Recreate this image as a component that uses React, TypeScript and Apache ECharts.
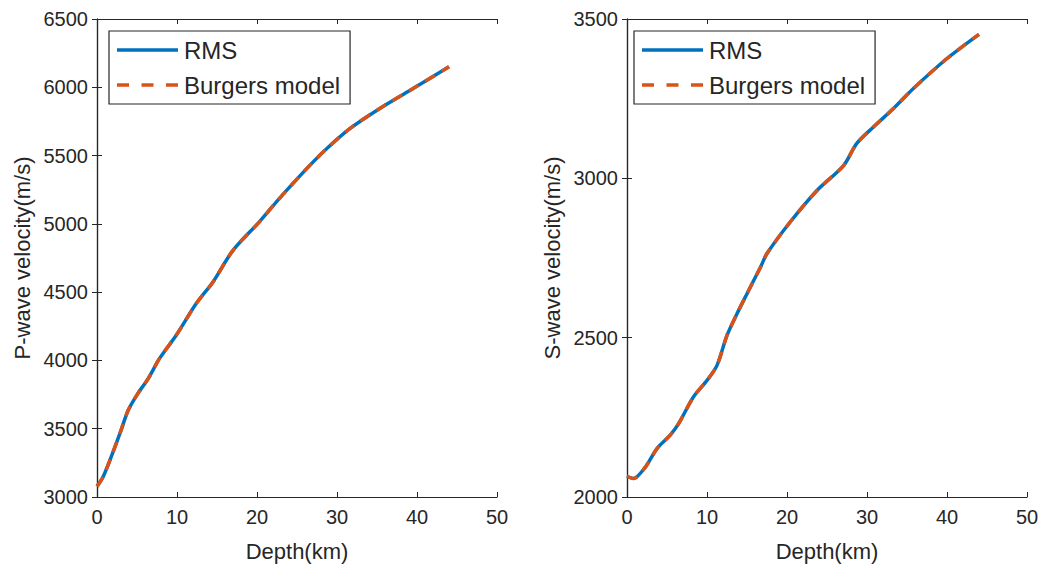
import React, { useEffect, useRef } from "react";
import * as echarts from "echarts";

const pDepth = [0, 0.75, 2, 3, 3.9, 5.1, 6.4, 7.8, 9.9, 12.4, 14.5, 17, 20.3, 22.4, 23.7, 26.6, 28.7, 31.6, 35.3, 39.1, 44];
const pVel = [3078, 3146, 3329, 3488, 3635, 3757, 3867, 4013, 4184, 4416, 4575, 4806, 5015, 5159, 5245, 5428, 5550, 5697, 5843, 5977, 6150];

const sDepth = [0, 0.8, 2.3, 3.75, 5.4, 6.45, 8.3, 10, 11.25, 12.5, 13.75, 15, 16.7, 17.5, 20.4, 23.75, 27.1, 28.7, 30.8, 33.3, 35.8, 40, 44];
const sVel = [2065, 2058, 2094, 2152, 2194, 2230, 2314, 2366, 2413, 2507, 2575, 2638, 2722, 2764, 2863, 2962, 3041, 3109, 3161, 3219, 3282, 3376, 3452];

const seriesNames = ["RMS", "Burgers model"];
const yNames = ["P-wave velocity(m/s)", "S-wave velocity(m/s)"];
const xName = "Depth(km)";

const FONT = "Liberation Sans, Arial, Helvetica, sans-serif";
const AX = "#262626";
const BLUE = "#0072BD";
const ORANGE = "#D95319";

const SOLID_ICON = "path://M0,0h61v3.5h-61z";
const DASH_ICON = "path://M0,0h12v3.5h-12zM24.5,0h12v3.5h-12zM49,0h12v3.5h-12z";

export default function App() {
  const ref = useRef<HTMLDivElement>(null);
  useEffect(() => {
    document.body.style.margin = "0";
    if (!ref.current) return;
    const chart = echarts.init(ref.current, undefined, { renderer: "svg" });
    const grids = [
      { left: 97, top: 19, width: 400, height: 478 },
      { left: 627, top: 19, width: 400, height: 478 },
    ];
    const yRanges = [
      [3000, 6500],
      [2000, 3500],
    ];
    const tickStyle = { show: true, inside: true, length: 5, lineStyle: { color: AX, width: 1 } };
    const lineStyle = { show: true, lineStyle: { color: AX, width: 1.2 } };
    const fmt = (v: number) => String(v);
    const xAxis: any[] = [];
    const yAxis: any[] = [];
    [0, 1].forEach((g) => {
      xAxis.push({
        type: "value", gridIndex: g, min: 0, max: 50, interval: 10, position: "bottom",
        name: xName, nameLocation: "middle", nameGap: 43,
        nameTextStyle: { fontFamily: FONT, fontSize: 22, color: AX },
        axisLine: lineStyle, axisTick: tickStyle, splitLine: { show: false },
        axisLabel: { fontFamily: FONT, fontSize: 20, color: AX, margin: 10, formatter: fmt },
      });
      xAxis.push({
        type: "value", gridIndex: g, min: 0, max: 50, interval: 10, position: "top",
        axisLine: lineStyle, axisTick: tickStyle, splitLine: { show: false },
        axisLabel: { show: false },
      });
      yAxis.push({
        type: "value", gridIndex: g, min: yRanges[g][0], max: yRanges[g][1], interval: 500, position: "left",
        name: yNames[g], nameLocation: "middle", nameGap: 64, nameRotate: 90,
        nameTextStyle: { fontFamily: FONT, fontSize: 22, color: AX },
        axisLine: lineStyle, axisTick: tickStyle, splitLine: { show: false },
        axisLabel: { fontFamily: FONT, fontSize: 20, color: AX, margin: 9, formatter: fmt },
      });
      yAxis.push({
        type: "value", gridIndex: g, min: yRanges[g][0], max: yRanges[g][1], interval: 500, position: "right",
        axisLine: lineStyle, axisTick: tickStyle, splitLine: { show: false },
        axisLabel: { show: false },
      });
    });
    const datasets = [
      pDepth.map((d, i) => [d, pVel[i]]),
      sDepth.map((d, i) => [d, sVel[i]]),
    ];
    const series: any[] = [];
    [0, 1].forEach((g) => {
      series.push({
        type: "line", name: seriesNames[0], xAxisIndex: g * 2, yAxisIndex: g * 2,
        data: datasets[g], symbol: "none", smooth: 0.3,
        lineStyle: { color: BLUE, width: 3.5, type: "solid" }, itemStyle: { color: BLUE }, z: 2,
      });
      series.push({
        type: "line", name: seriesNames[1], xAxisIndex: g * 2, yAxisIndex: g * 2,
        data: datasets[g], symbol: "none", smooth: 0.3,
        lineStyle: { color: ORANGE, width: 3.5, type: [11, 8] }, itemStyle: { color: ORANGE }, z: 3,
      });
    });
    const legendBase = {
      orient: "vertical", top: 31,
      data: [
        { name: seriesNames[0], icon: SOLID_ICON, itemStyle: { color: BLUE } },
        { name: seriesNames[1], icon: DASH_ICON, itemStyle: { color: ORANGE } },
      ],
      itemWidth: 61, itemHeight: 3.5, itemGap: 11,
      padding: [7, 10, 7, 8], borderColor: AX, borderWidth: 1.2, backgroundColor: "#fff",
      selectedMode: false,
      textStyle: { fontFamily: FONT, fontSize: 24, color: AX, lineHeight: 24, padding: [0, 0, 0, 1] },
    };
    chart.setOption({
      animation: false,
      backgroundColor: "#fff",
      grid: grids,
      xAxis, yAxis, series,
      legend: [
        { ...legendBase, left: 109 },
        { ...legendBase, left: 634 },
      ],
    });
    return () => chart.dispose();
  }, []);
  return <div ref={ref} style={{ width: 1043, height: 568 }} />;
}
